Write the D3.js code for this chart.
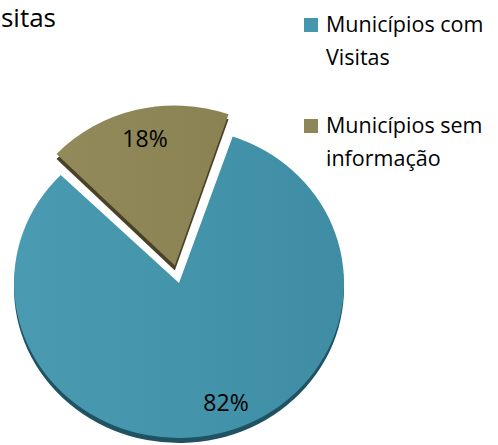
<!DOCTYPE html>
<html>
<head>
<meta charset="utf-8">
<script src="https://cdn.jsdelivr.net/npm/d3@7/dist/d3.min.js"></script>
<style>
  html, body { margin: 0; padding: 0; background: #fff; }
  svg { display: block; font-family: "Open Sans", "Noto Sans", sans-serif; }
</style>
</head>
<body>
<div id="chart"></div>
<script>
// Chart data
const categories = ['Municípios com Visitas', 'Municípios sem informação'];
const values = [82, 18];
const legendLines = [['Municípios com', 'Visitas'], ['Municípios sem', 'informação']];
const titleText = 'Visitas';

const width = 498, height = 445;
const cx = 179, cy = 283;
const rx = 165;
const ryBySlice = [155, 160];
const depth = 5;
const explode = [0, 18];
const startDeg = 19;

const colors = ['#4597ad', '#8e8656'];
const sideColors = ['#1f5263', '#4a4226'];

const svg = d3.select('#chart').append('svg')
  .attr('width', width)
  .attr('height', height);

// Gradients for the slice faces
const defs = svg.append('defs');
const grad = defs.append('linearGradient')
  .attr('id', 'tealGrad')
  .attr('x1', '0%').attr('y1', '0%')
  .attr('x2', '100%').attr('y2', '0%');
grad.append('stop').attr('offset', '0%').attr('stop-color', '#4a9bb1');
grad.append('stop').attr('offset', '100%').attr('stop-color', '#3e8da4');

const oliveGrad = defs.append('linearGradient')
  .attr('id', 'oliveGrad')
  .attr('x1', '0%').attr('y1', '0%')
  .attr('x2', '100%').attr('y2', '0%');
oliveGrad.append('stop').attr('offset', '0%').attr('stop-color', '#928a5a');
oliveGrad.append('stop').attr('offset', '100%').attr('stop-color', '#8a8253');

const fills = ['url(#tealGrad)', 'url(#oliveGrad)'];

// Title (cut off at the left edge, as in the original)
svg.append('text')
  .attr('x', 56)
  .attr('y', 27)
  .attr('text-anchor', 'end')
  .attr('font-size', 26)
  .attr('fill', '#000')
  .text(titleText);

// Pie layout
const toRad = d => d * Math.PI / 180;
const pie = d3.pie()
  .sort(null)
  .startAngle(toRad(startDeg))
  .endAngle(toRad(startDeg + 360))
  .value(d => d);

const arcs = pie(values);
const arc = d3.arc().innerRadius(0).outerRadius(rx);

const offset = (d, i) => {
  const mid = (d.startAngle + d.endAngle) / 2;
  return [Math.sin(mid) * explode[i], -Math.cos(mid) * explode[i]];
};

const pieGroup = svg.append('g');

// Side walls (drawn first, shifted down)
arcs.forEach((d, i) => {
  const [ox, oy] = offset(d, i);
  pieGroup.append('path')
    .attr('d', arc(d))
    .attr('fill', sideColors[i])
    .attr('transform', `translate(${cx + ox}, ${cy + oy + depth}) scale(1, ${ryBySlice[i] / rx})`);
});

// Top faces
arcs.forEach((d, i) => {
  const [ox, oy] = offset(d, i);
  pieGroup.append('path')
    .attr('d', arc(d))
    .attr('fill', fills[i])
    .attr('transform', `translate(${cx + ox}, ${cy + oy}) scale(1, ${ryBySlice[i] / rx})`);
});

// Percent labels
const labelPos = [[226, 411], [145, 147]];
const total = d3.sum(values);
arcs.forEach((d, i) => {
  svg.append('text')
    .attr('x', labelPos[i][0])
    .attr('y', labelPos[i][1])
    .attr('text-anchor', 'middle')
    .attr('font-size', 23)
    .attr('fill', '#000')
    .text(Math.round(d.data / total * 100) + '%');
});

// Legend
const legendY = [18, 119];
const legend = svg.append('g');
legendLines.forEach((lines, i) => {
  const g = legend.append('g').attr('transform', `translate(304, ${legendY[i]})`);
  g.append('rect')
    .attr('width', 14)
    .attr('height', 14)
    .attr('fill', colors[i]);
  lines.forEach((line, j) => {
    g.append('text')
      .attr('x', 22)
      .attr('y', 14 + j * 33)
      .attr('font-size', 21.5)
      .attr('fill', '#000')
      .text(line);
  });
});
</script>
</body>
</html>
